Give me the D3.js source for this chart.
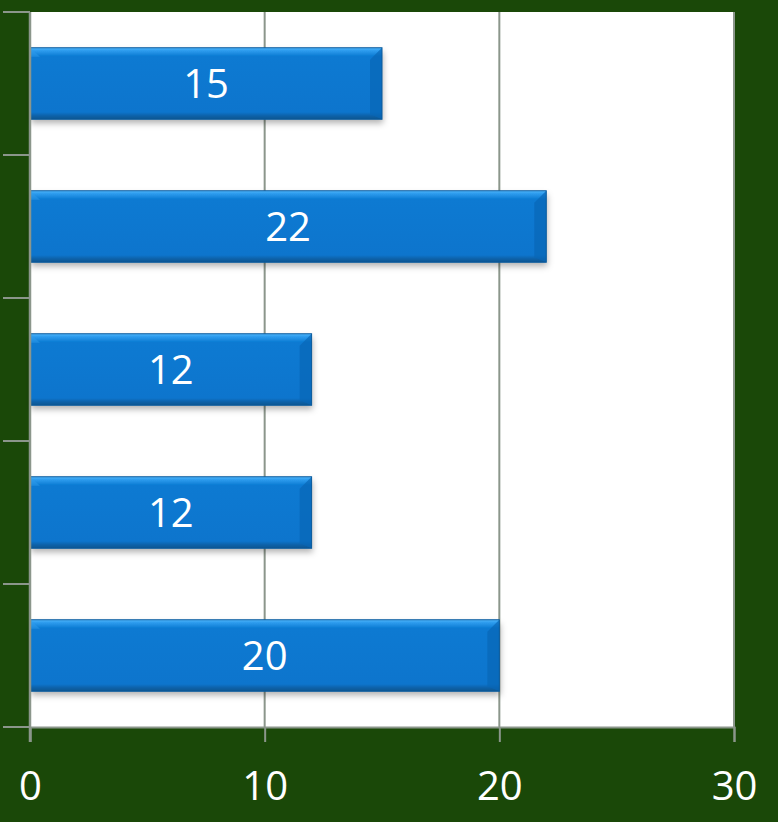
<!DOCTYPE html>
<html>
<head>
<meta charset="utf-8">
<script src="https://cdn.jsdelivr.net/npm/d3@7"></script>
<style>
  html, body { margin: 0; padding: 0; background: #1a4808; }
  svg { display: block; }
</style>
</head>
<body>
<div class="chart"></div>
<script>
// Width and height
var width = 778;
var height = 822;
var margin = {top: 12, right: 44, bottom: 95, left: 30};

// Data
var categories = ['A', 'B', 'C', 'D', 'E'];
var values = [15, 22, 12, 12, 20];
var xTicks = [0, 10, 20, 30];

var bars = categories.map(function(c, i) { return {cat: c, value: values[i]}; });

// Scalers
var xScale = d3.scaleLinear()
               .domain([0, 30])
               .range([margin.left, width - margin.right]);

var yScale = d3.scaleBand()
               .domain(categories)
               .range([margin.top, height - margin.bottom])
               .paddingInner(0.5)
               .paddingOuter(0.25);

// Svg
var svg = d3.select('.chart')
            .append('svg')
            .attr('width', width)
            .attr('height', height);

var defs = svg.append('defs');

var grad = defs.append('linearGradient')
               .attr('id', 'barGrad')
               .attr('x1', 0).attr('y1', 0).attr('x2', 0).attr('y2', 1);
grad.append('stop').attr('offset', '0%').attr('stop-color', '#4fb6fa');
grad.append('stop').attr('offset', '4%').attr('stop-color', '#2e9cee');
grad.append('stop').attr('offset', '12%').attr('stop-color', '#0a7ad2');
grad.append('stop').attr('offset', '90%').attr('stop-color', '#0775cd');
grad.append('stop').attr('offset', '95%').attr('stop-color', '#0a62aa');
grad.append('stop').attr('offset', '100%').attr('stop-color', '#0b5590');

var shadow = defs.append('filter')
                 .attr('id', 'shadow')
                 .attr('x', '-5%').attr('y', '-20%')
                 .attr('width', '115%').attr('height', '160%');
shadow.append('feDropShadow')
      .attr('dx', 1).attr('dy', 4)
      .attr('stdDeviation', 3)
      .attr('flood-color', '#000')
      .attr('flood-opacity', 0.3);

// Plot area
svg.append('rect')
   .attr('x', xScale(0))
   .attr('y', margin.top)
   .attr('width', xScale(30) - xScale(0))
   .attr('height', height - margin.bottom - margin.top)
   .attr('fill', '#ffffff');

// Grid lines
svg.selectAll('.grid')
   .data(xTicks.slice(1))
   .enter()
   .append('line')
   .attr('class', 'grid')
   .attr('x1', function(d) { return xScale(d); })
   .attr('x2', function(d) { return xScale(d); })
   .attr('y1', margin.top)
   .attr('y2', height - margin.bottom)
   .attr('stroke', '#8b968b')
   .attr('stroke-width', 2);

// Bars
var barG = svg.selectAll('.bar')
              .data(bars)
              .enter()
              .append('g')
              .attr('class', 'bar');

barG.append('rect')
    .attr('x', xScale(0))
    .attr('y', function(d) { return yScale(d.cat); })
    .attr('width', function(d) { return xScale(d.value) - xScale(0); })
    .attr('height', yScale.bandwidth())
    .attr('fill', 'url(#barGrad)')
    .attr('filter', 'url(#shadow)');

// right bevel
barG.append('path')
    .attr('d', function(d) {
      var x1 = xScale(d.value), y0 = yScale(d.cat), y1 = y0 + yScale.bandwidth();
      return 'M' + x1 + ',' + y0 + 'L' + (x1 - 12) + ',' + (y0 + 12) +
             'L' + (x1 - 12) + ',' + (y1 - 5) + 'L' + x1 + ',' + y1 + 'Z';
    })
    .attr('fill', '#0866b6')
    .attr('opacity', 0.7);

// left bevel highlight
barG.append('path')
    .attr('d', function(d) {
      var x0 = xScale(0), y0 = yScale(d.cat);
      return 'M' + x0 + ',' + y0 + 'L' + (x0 + 10) + ',' + (y0 + 9) +
             'L' + x0 + ',' + (y0 + 9) + 'Z';
    })
    .attr('fill', '#2f9cec')
    .attr('opacity', 0.5);

barG.append('rect')
    .attr('x', xScale(0))
    .attr('y', function(d) { return yScale(d.cat); })
    .attr('width', function(d) { return xScale(d.value) - xScale(0); })
    .attr('height', yScale.bandwidth())
    .attr('fill', 'none')
    .attr('stroke', '#0a5a9c')
    .attr('stroke-width', 1);

// Value labels
barG.append('text')
    .attr('x', function(d) { return (xScale(0) + xScale(d.value)) / 2; })
    .attr('y', function(d) { return yScale(d.cat) + yScale.bandwidth() / 2; })
    .attr('dy', '0.36em')
    .attr('text-anchor', 'middle')
    .attr('fill', '#ffffff')
    .style('font-family', '"Open Sans", sans-serif')
    .style('font-size', '40px')
    .text(function(d) { return d.value; });

// Axes
var xAxis = d3.axisBottom(xScale)
              .tickValues(xTicks)
              .tickSize(15)
              .tickPadding(30);

var xAxisG = svg.append('g')
                .attr('transform', 'translate(0,' + (height - margin.bottom) + ')')
                .call(xAxis);

xAxisG.select('.domain').attr('stroke', '#8b968b').attr('stroke-width', 2);
xAxisG.selectAll('.tick line').attr('stroke', '#8b968b').attr('stroke-width', 2);
xAxisG.selectAll('.tick text')
      .attr('fill', '#ffffff')
      .style('font-family', '"Open Sans", sans-serif')
      .style('font-size', '40px');

// category boundary ticks on the y axis
var yEdges = categories.map(function(c) { return yScale(c) - yScale.step() * yScale.paddingInner() / 2; });
yEdges.push(height - margin.bottom);

svg.append('line')
   .attr('x1', xScale(0)).attr('x2', xScale(0))
   .attr('y1', margin.top).attr('y2', height - margin.bottom + 15)
   .attr('stroke', '#8b968b')
   .attr('stroke-width', 2.5);

svg.selectAll('.ytick')
   .data(yEdges)
   .enter()
   .append('line')
   .attr('class', 'ytick')
   .attr('x1', 3)
   .attr('x2', xScale(0))
   .attr('y1', function(d) { return d; })
   .attr('y2', function(d) { return d; })
   .attr('stroke', '#8b968b')
   .attr('stroke-width', 2);
</script>
</body>
</html>
